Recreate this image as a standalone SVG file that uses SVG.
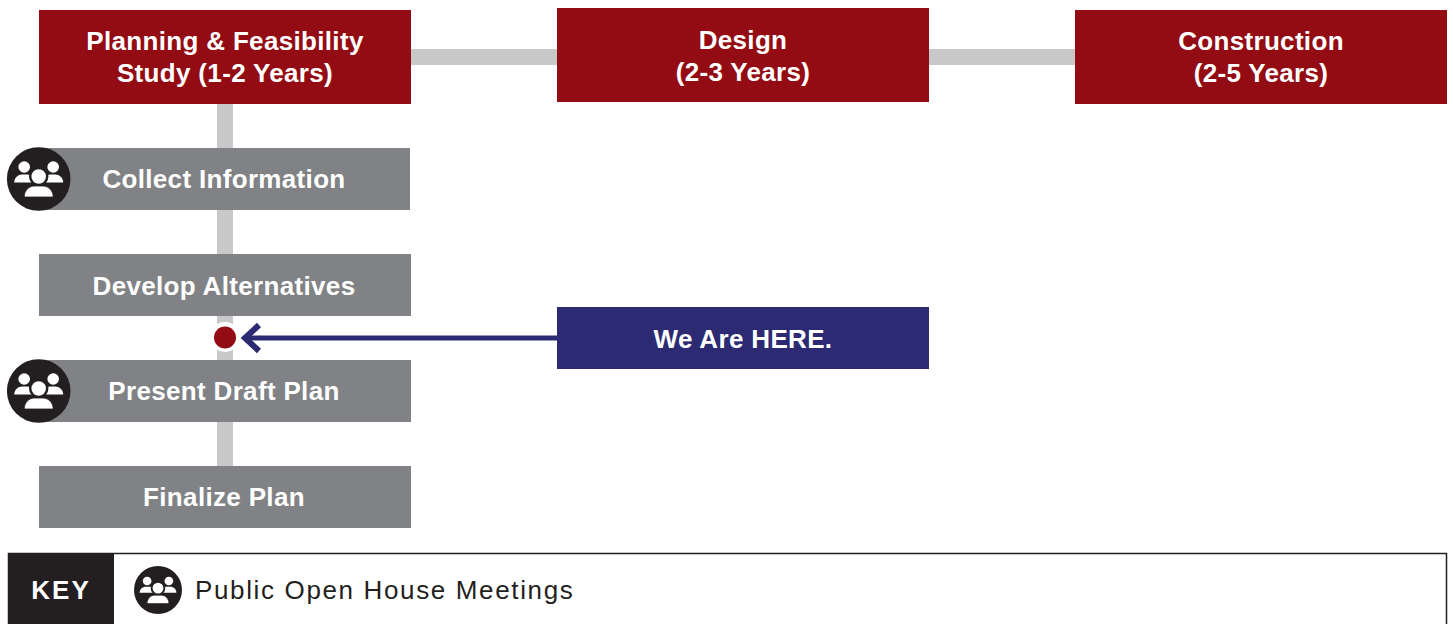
<svg xmlns="http://www.w3.org/2000/svg" width="1453" height="624" viewBox="0 0 1453 624">
<style>
text{font-family:"Liberation Sans",Arial,sans-serif;font-weight:700;fill:#fff;text-anchor:middle;font-size:26px;letter-spacing:.33px}
.r{fill:#930b13}.g{fill:#808285}.c{fill:#c8c8c8}
</style>
<defs>
<g id="people">
<circle cx="-14.500" cy="-12" r="5.800" fill="#fff"/><circle cx="14.500" cy="-12" r="5.800" fill="#fff"/>
<path d="M-24.500 3.500c0-5 4-8 8-8h5c4 0 8 3 8 8z" fill="#fff"/>
<path d="M24.500 3.500c0-5-4-8-8-8h-5c-4 0-8 3-8 8z" fill="#fff"/>
<circle cx="0" cy="-2.500" r="8.500" fill="#fff" stroke="#231f20" stroke-width="2.500"/>
<path d="M-14.500 18c0-6.500 5-11 10-11h9c5 0 10 4.500 10 11z" fill="#fff" stroke="#231f20" stroke-width=".8"/>
</g>
</defs>
<rect width="1453" height="624" fill="#fff"/>
<g id="connectors">
<rect class="c" x="411" y="49" width="146" height="16"/>
<rect class="c" x="929" y="49" width="146" height="16"/>
<rect class="c" x="217" y="104" width="16" height="362"/>
<path d="M557 338H248" fill="none" stroke="#2b2a72" stroke-width="5"/>
<path d="M259 325L245 338L259 351" fill="none" stroke="#2b2a72" stroke-width="6"/>
</g>
<g id="planning"><rect class="r" x="39" y="10" width="372" height="94"/><text x="225" y="50">Planning &amp; Feasibility</text><text x="225" y="82">Study (1-2 Years)</text></g>
<g id="design"><rect class="r" x="557" y="8" width="372" height="94"/><text x="743" y="49">Design</text><text x="743" y="81">(2-3 Years)</text></g>
<g id="construction"><rect class="r" x="1075" y="10" width="372" height="94"/><text x="1261" y="50">Construction</text><text x="1261" y="82">(2-5 Years)</text></g>
<g id="collect"><rect class="g" x="39" y="148" width="371" height="62"/><circle cx="38.700" cy="179" r="31.800" fill="#231f20"/><use href="#people" x="38.700" y="179"/><text x="224" y="188">Collect Information</text></g>
<g id="develop"><rect class="g" x="39" y="254" width="372" height="62"/><text x="224" y="295">Develop Alternatives</text></g>
<g id="present"><rect class="g" x="39" y="360" width="372" height="62"/><circle cx="38.700" cy="391" r="31.800" fill="#231f20"/><use href="#people" x="38.700" y="391"/><text x="224" y="400">Present Draft Plan</text></g>
<g id="finalize"><rect class="g" x="39" y="466" width="372" height="62"/><text x="224" y="506">Finalize Plan</text></g>
<g id="marker"><circle cx="225" cy="337" r="15" fill="#fff"/><circle cx="225" cy="337.500" r="11" fill="#930b13"/></g>
<g id="here"><rect x="557" y="307" width="372" height="62" fill="#2b2a72"/><text x="743" y="348">We Are HERE.</text></g>
<g id="key">
<rect x="8.500" y="553.500" width="1438" height="80" fill="#fff" stroke="#231f20" stroke-width="1.500"/>
<rect x="8" y="553" width="106" height="71" fill="#231f20"/>
<text x="61" y="599" style="letter-spacing:2px">KEY</text>
<circle cx="158" cy="590" r="24" fill="#231f20"/><use href="#people" transform="translate(158 590) scale(.75)"/>
<text x="195" y="599" style="font-weight:400;fill:#231f20;text-anchor:start;letter-spacing:1.640px">Public Open House Meetings</text>
</g>
</svg>
